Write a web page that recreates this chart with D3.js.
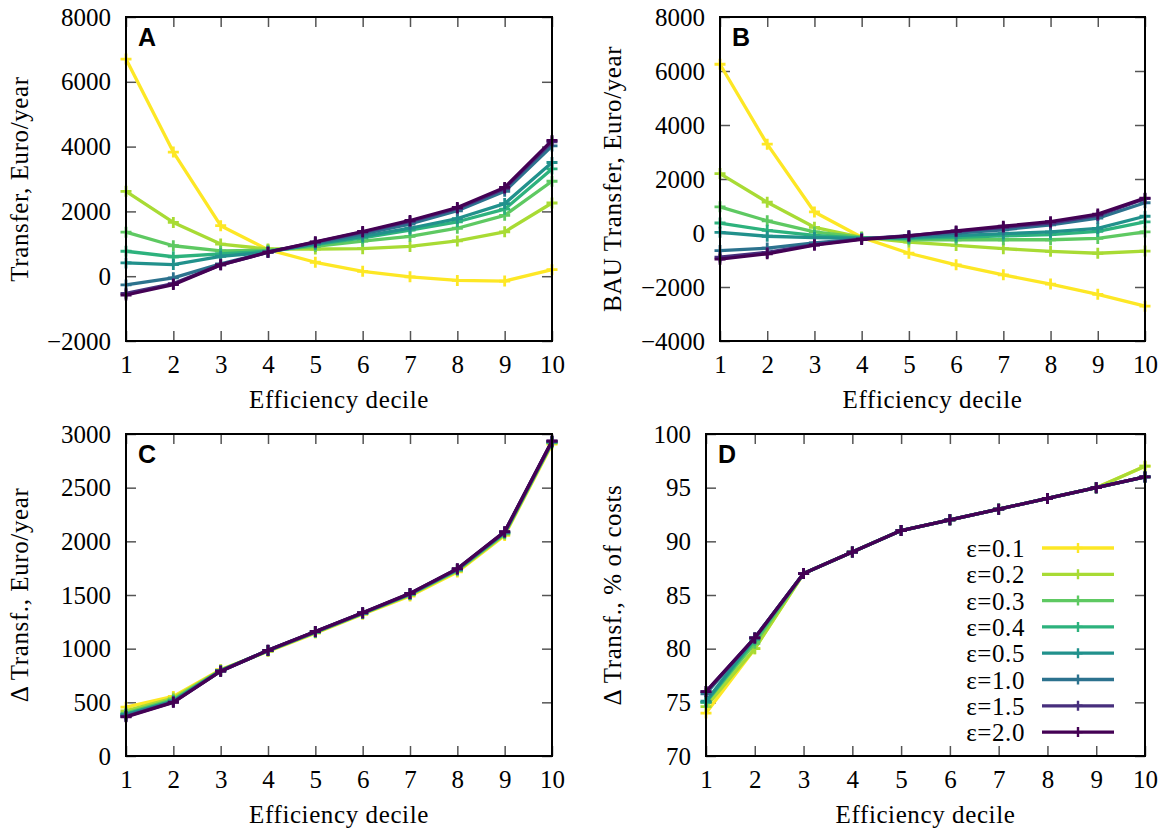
<!DOCTYPE html>
<html>
<head>
<meta charset="utf-8">
<script src="https://cdn.jsdelivr.net/npm/d3@7"></script>
<style>
  body { margin: 0; background: #fff; }
  svg { display: block; }
  .tick text { font-family: 'Liberation Serif', 'DejaVu Serif', serif; font-size: 25px; fill: #000; }
  .lbl { font-family: 'Liberation Serif', 'DejaVu Serif', serif; font-size: 25px; fill: #000; letter-spacing: 0.6px; }
  .letter { font-family: 'Liberation Sans', Arial, sans-serif; font-size: 25px; font-weight: bold; fill: #000; }
</style>
</head>
<body>
<svg id="chart" width="1171" height="833"></svg>
<script>
// ---------- data ----------
const deciles = [1, 2, 3, 4, 5, 6, 7, 8, 9, 10];
const epsLabels = ["ε=0.1", "ε=0.2", "ε=0.3", "ε=0.4", "ε=0.5", "ε=1.0", "ε=1.5", "ε=2.0"];
const epsColors = ["#fde725", "#a8db34", "#5ec962", "#2db27d", "#21918c", "#2c728e", "#472f7d", "#440154"];

// Panel A: Transfer, Euro/year
const transferA = [
  [6700, 3830, 1560, 820, 430, 150, -20, -130, -150, 200],
  [2620, 1660, 990, 840, 840, 850, 920, 1090, 1370, 2260],
  [1360, 940, 780, 800, 920, 1080, 1230, 1480, 1880, 2930],
  [770, 600, 690, 770, 975, 1180, 1420, 1680, 2070, 3310],
  [410, 360, 615, 740, 1000, 1230, 1480, 1780, 2240, 3510],
  [-270, -50, 380, 740, 1030, 1310, 1610, 2020, 2620, 4020],
  [-530, -230, 350, 740, 1050, 1360, 1690, 2090, 2700, 4150],
  [-580, -260, 350, 740, 1060, 1380, 1720, 2120, 2740, 4190]
];
// Panel B: BAU Transfer, Euro/year
const transferB = [
  [6250, 3290, 780, -160, -750, -1180, -1550, -1890, -2270, -2710],
  [2200, 1140, 210, -160, -340, -460, -580, -680, -750, -670],
  [970, 450, 40, -160, -250, -250, -250, -250, -200, 40],
  [370, 100, -90, -190, -200, -160, -110, -60, 60, 410],
  [25, -120, -170, -200, -160, -100, -25, 40, 170, 620],
  [-650, -560, -370, -220, -120, 0, 120, 300, 550, 1120],
  [-890, -720, -430, -220, -100, 60, 210, 370, 650, 1270],
  [-970, -770, -450, -240, -110, 75, 250, 420, 700, 1290]
];
// Panel C: Δ Transf., Euro/year
const deltaC = [
  [455, 555, 805, 975, 1145, 1320, 1490, 1715, 2055, 2905],
  [420, 540, 800, 978, 1150, 1325, 1500, 1725, 2065, 2915],
  [400, 525, 798, 980, 1152, 1328, 1505, 1730, 2072, 2920],
  [390, 515, 795, 982, 1155, 1330, 1508, 1735, 2078, 2925],
  [385, 510, 793, 983, 1157, 1332, 1510, 1738, 2082, 2928],
  [375, 505, 791, 984, 1158, 1333, 1512, 1741, 2086, 2931],
  [368, 502, 790, 985, 1159, 1334, 1514, 1743, 2088, 2933],
  [365, 500, 790, 985, 1160, 1335, 1515, 1745, 2090, 2935]
];
// Panel D: Δ Transf., % of costs
const deltaD = [
  [74.0, 80.0, 87, 89, 91, 92, 93, 94, 95, 97],
  [74.6, 80.0, 87, 89, 91, 92, 93, 94, 95, 97],
  [75.0, 80.5, 87, 89, 91, 92, 93, 94, 95, 96],
  [75.0, 80.8, 87, 89, 91, 92, 93, 94, 95, 96],
  [75.1, 81.0, 87, 89, 91, 92, 93, 94, 95, 96],
  [75.8, 81.0, 87, 89, 91, 92, 93, 94, 95, 96],
  [76.0, 81.0, 87, 89, 91, 92, 93, 94, 95, 96],
  [76.0, 81.0, 87, 89, 91, 92, 93, 94, 95, 96]
];

const ticksA = [-2000, 0, 2000, 4000, 6000, 8000];
const ticksB = [-4000, -2000, 0, 2000, 4000, 6000, 8000];
const ticksC = [0, 500, 1000, 1500, 2000, 2500, 3000];
const ticksD = [70, 75, 80, 85, 90, 95, 100];

// ---------- drawing ----------
const svg = d3.select("#chart");
const fmt = d3.format("");
const SERIF = "'Liberation Serif', 'DejaVu Serif', serif";

function panel(opt) {
  const { left, right, top, bottom, domain, ticks, series, letter, ylabel, ylabelX } = opt;
  const x = d3.scaleLinear().domain([1, 10]).range([left, right]);
  const y = d3.scaleLinear().domain(domain).range([bottom, top]);
  const g = svg.append("g");

  // axes with inward ticks
  const axB = g.append("g").attr("transform", `translate(0,${bottom})`)
    .call(d3.axisBottom(x).tickValues(deciles).tickSizeInner(-10).tickSizeOuter(0).tickPadding(14).tickFormat(fmt));
  const axT = g.append("g").attr("transform", `translate(0,${top})`)
    .call(d3.axisTop(x).tickValues(deciles).tickSizeInner(-10).tickSizeOuter(0).tickFormat(""));
  const axL = g.append("g").attr("transform", `translate(${left},0)`)
    .call(d3.axisLeft(y).tickValues(ticks).tickSizeInner(-10).tickSizeOuter(0).tickPadding(15).tickFormat(d3.format("")));
  const axR = g.append("g").attr("transform", `translate(${right},0)`)
    .call(d3.axisRight(y).tickValues(ticks).tickSizeInner(-10).tickSizeOuter(0).tickFormat(""));
  [axB, axT, axL, axR].forEach(a => {
    a.attr("font-family", SERIF).attr("font-size", 25);
    a.select(".domain").remove();
    a.selectAll(".tick line").attr("stroke", "#555").attr("stroke-width", 1.5);
    a.selectAll(".tick text").style("font-family", SERIF).style("font-size", "25px");
  });
  axB.selectAll(".tick text").attr("dy", "0.71em");

  // series
  const line = d3.line().x((d, i) => x(deciles[i])).y(d => y(d));
  series.forEach((vals, k) => {
    const s = g.append("g");
    s.append("path").attr("d", line(vals)).attr("fill", "none")
      .attr("stroke", epsColors[k]).attr("stroke-width", 3.3).attr("stroke-linejoin", "round");
    s.selectAll("path.m").data(vals).join("path").attr("class", "m")
      .attr("transform", (d, i) => `translate(${x(deciles[i])},${y(d)})`)
      .attr("d", "M-5.5,0H5.5M0,-5.5V5.5")
      .attr("stroke", epsColors[k]).attr("stroke-width", 2.8);
  });

  // frame
  g.append("rect").attr("x", left).attr("y", top).attr("width", right - left).attr("height", bottom - top)
    .attr("fill", "none").attr("stroke", "#000").attr("stroke-width", 2);

  // letter
  g.append("text").attr("class", "letter").attr("x", left + 12).attr("y", top + 29).text(letter);

  // labels
  g.append("text").attr("class", "lbl").style("font-family", SERIF).attr("text-anchor", "middle")
    .attr("x", (left + right) / 2).attr("y", bottom + 67).text("Efficiency decile");
  g.append("text").attr("class", "lbl").style("font-family", SERIF).attr("text-anchor", "middle")
    .attr("transform", `translate(${ylabelX},${(top + bottom) / 2}) rotate(-90)`).text(ylabel);

  return { x, y, g };
}

panel({ left: 126, right: 552, top: 17, bottom: 341, domain: [-2000, 8000], ticks: ticksA,
  series: transferA, letter: "A", ylabel: "Transfer, Euro/year", ylabelX: 28 });
panel({ left: 720, right: 1145, top: 17, bottom: 341, domain: [-4000, 8000], ticks: ticksB,
  series: transferB, letter: "B", ylabel: "BAU Transfer, Euro/year", ylabelX: 621 });
panel({ left: 126, right: 552, top: 434, bottom: 756, domain: [0, 3000], ticks: ticksC,
  series: deltaC, letter: "C", ylabel: "Δ Transf., Euro/year", ylabelX: 28 });
panel({ left: 706, right: 1145, top: 434, bottom: 756, domain: [70, 100], ticks: ticksD,
  series: deltaD, letter: "D", ylabel: "Δ Transf., % of costs", ylabelX: 621 });

// legend (panel D)
const leg = svg.append("g");
epsLabels.forEach((lab, i) => {
  const yy = 548 + i * 26.3;
  const r = leg.append("g").attr("transform", `translate(0,${yy})`);
  r.append("rect").attr("x", 940).attr("y", -13).attr("width", 180).attr("height", 26).attr("fill", "#fff");
  r.append("text").attr("class", "lbl").style("font-family", SERIF).attr("text-anchor", "end").attr("x", 1025).attr("y", 9).text(lab);
  r.append("line").attr("x1", 1042).attr("x2", 1114).attr("stroke", epsColors[i]).attr("stroke-width", 3.3);
  r.append("path").attr("transform", "translate(1078,0)").attr("d", "M-4.5,0H4.5M0,-5V5")
    .attr("stroke", epsColors[i]).attr("stroke-width", 2.4);
});
</script>
</body>
</html>
